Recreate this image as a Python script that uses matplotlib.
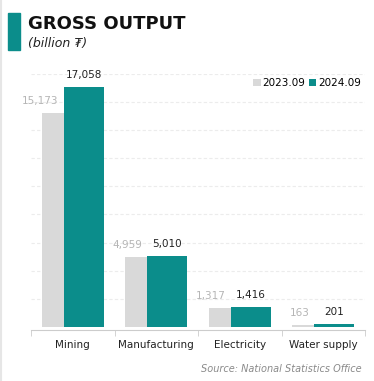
import matplotlib
matplotlib.use("Agg")
import matplotlib.pyplot as plt
import numpy as np

categories = ["Mining", "Manufacturing", "Electricity", "Water supply"]
prev_values = [15173, 4959, 1317, 163]
curr_values = [17058, 5010, 1416, 201]
series_names = ["2023.09", "2024.09"]

TEAL = "#0b8d8b"
GRAY = "#d9d9d9"

fig = plt.figure(figsize=(3.74, 3.81), dpi=100)
ax = fig.add_axes([31 / 374, 1 - 327 / 381, 334 / 374, (327 - 73.7) / 381])

x = np.arange(len(categories))
w = 0.476
off = 0.131
ax.bar(x - off, prev_values, w, color=GRAY, zorder=2, label=series_names[0])
ax.bar(x + off, curr_values, w, color=TEAL, zorder=3, label=series_names[1])

for xi, p, c in zip(x, prev_values, curr_values):
    ax.text(xi + off - w / 2 - 0.06, p + 500, f"{p:,}", ha="right", va="bottom",
            fontsize=7.5, color="#b5b5b5")
    ax.text(xi + off, c + 500, f"{c:,}", ha="center", va="bottom",
            fontsize=7.5, color="#222222")

ax.set_xlim(-0.5, 3.5)
ax.set_ylim(0, 18000)
ax.set_yticks(np.arange(2000, 18001, 2000))
ax.yaxis.grid(True, linestyle=(0, (3, 2)), color="#ececec", linewidth=0.8, zorder=0)
ax.tick_params(axis="y", left=False, labelleft=False)
ax.set_xticks(x)
ax.set_xticklabels(categories)
ax.set_xticks(np.arange(-0.5, 3.6, 1), minor=True)
ax.tick_params(axis="x", which="major", length=0, pad=7, labelsize=7.5,
               labelcolor="#222222")
ax.tick_params(axis="x", which="minor", length=4, color="#cccccc")
for s in ["top", "right", "left"]:
    ax.spines[s].set_visible(False)
ax.spines["bottom"].set_color("#cccccc")
ax.spines["bottom"].set_position(("outward", 2))

ax.legend(loc="upper right", bbox_to_anchor=(1.0, 1.0), ncol=2, frameon=False,
          fontsize=7.5, handlelength=0.7, handleheight=0.7, handletextpad=0.2,
          columnspacing=0.3, borderaxespad=0.0)

# title block
fig.patches.append(plt.Rectangle((8 / 374, 1 - 50 / 381), 12 / 374, 37 / 381,
                                 transform=fig.transFigure, color=TEAL))
fig.text(28 / 374, 1 - 24 / 381, "GROSS OUTPUT", fontsize=13, fontweight="bold",
         va="center", ha="left", color="#111111")
fig.text(28 / 374, 1 - 43 / 381, "(billion ₮)", fontsize=9, style="italic",
         va="center", ha="left", color="#222222")
fig.text(362 / 374, 1 - 369 / 381, "Source: National Statistics Office", fontsize=7,
         style="italic", va="center", ha="right", color="#8a8a8a")

fig.lines.append(plt.Line2D([0.5 / 374, 0.5 / 374], [0, 1], transform=fig.transFigure,
                            color="#e6e6e6", linewidth=1.5))

fig.savefig("out.png", dpi=100)
